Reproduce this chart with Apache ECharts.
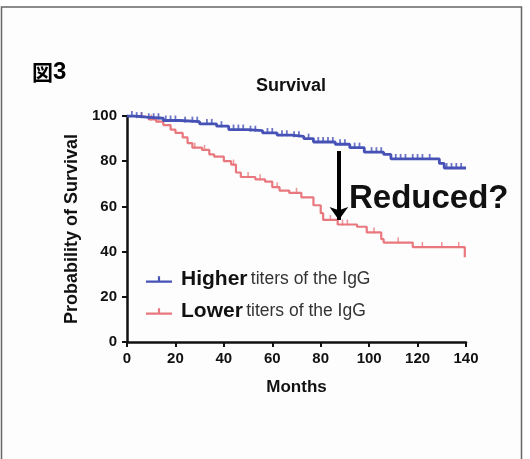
<!DOCTYPE html>
<html><head><meta charset="utf-8">
<script src="https://cdn.jsdelivr.net/npm/echarts@6/dist/echarts.min.js"></script>
<style>html,body{margin:0;padding:0;background:#fff}#c{width:530px;height:459px}</style>
</head><body><div id="c"></div>
<script>
// Kaplan-Meier step points [month, survival %]
const higherSteps = [[0,100],[3,99.5],[8,99],[15,98],[22,97.5],[30,96.5],[37,95.5],[42,94],[50,93.5],[56,92.5],[62,91.5],[68,91],[73,90],[77,88.5],[86,87.5],[92,86],[98,84],[106,83],[109,81],[129,79],[131,77],[140,77]];
const lowerSteps = [[0,100],[4,99.5],[9,98.5],[12,97.5],[15,96],[18,94],[20,92.5],[23,90.5],[25,88],[27,86],[31,85],[34,83],[36,82],[40,80],[43,78.5],[45,75],[47,73],[53,72],[57,71],[60,68.5],[63,67],[67,66],[72,64],[77,60.5],[80,57],[81,54],[87,52],[95,51],[99,48.5],[105,45.5],[106,44],[118,42],[139.5,42],[139.5,37.5]];
// censored observation months
const higherCensor = [2,4,6,9,11,13,16,18,20,24,27,29,33,35,39,44,46,48,51,53,58,60,64,66,69,71,75,79,81,83,85,88,90,94,96,101,103,105,111,113,115,118,120,122,125,132,134,136,138];
const lowerCensor = [6,10,13,28,32,44,50,55,62,70,84,89,91,102,112,122,130,137];
const xTicks = [0,20,40,60,80,100,120,140];
const yTicks = [0,20,40,60,80,100];
const arrowFrom = [87.5, 84.5];
const arrowTo = [87.5, 54];

function survAt(steps, t){ let v = steps[0][1]; for (const p of steps){ if (p[0] <= t) v = p[1]; } return v; }
const blue = '#4652b5', red = '#e8787e';
const font = 'Liberation Sans, Arial, sans-serif';
const chart = echarts.init(document.getElementById('c'), null, {renderer:'canvas'});
const tickIcon = 'path://M0,4 L11,4 L11,0 L13,0 L13,4 L24,4 L24,6 L0,6 Z';
chart.setOption({
  animation:false,
  backgroundColor:'#ffffff',
  grid:{left:127,right:64,top:116,bottom:117},
  xAxis:{type:'value',min:0,max:140,interval:20,
    name:'Months',nameLocation:'middle',nameGap:37,
    nameTextStyle:{fontFamily:font,fontWeight:'bold',fontSize:17,color:'#111'},
    axisLine:{lineStyle:{color:'#111',width:2.5}},
    axisTick:{show:true,length:5,lineStyle:{color:'#111',width:2}},
    axisLabel:{margin:9,fontFamily:font,fontWeight:'bold',fontSize:15,color:'#111',formatter:v=>xTicks.includes(v)?String(v):''},
    splitLine:{show:false}},
  yAxis:{type:'value',min:0,max:100,interval:20,
    name:'Probability of Survival',nameLocation:'middle',nameGap:46,nameRotate:90,
    nameTextStyle:{fontFamily:font,fontWeight:'bold',fontSize:18,color:'#111'},
    axisLine:{show:true,lineStyle:{color:'#111',width:2.5}},
    axisTick:{show:true,length:5,lineStyle:{color:'#111',width:2}},
    axisLabel:{margin:10,fontFamily:font,fontWeight:'bold',fontSize:15,color:'#111',formatter:v=>yTicks.includes(v)?String(v):''},
    splitLine:{show:false}},
  legend:{orient:'vertical',left:141,top:264,itemGap:11,itemWidth:26,itemHeight:7,
    data:[{name:'Higher',icon:tickIcon},{name:'Lower',icon:tickIcon}],
    formatter:n=>'{b|'+n+'} {n|titers of the IgG}',
    textStyle:{padding:[0,0,0,4],rich:{b:{fontFamily:font,fontWeight:'bold',fontSize:21,color:'#111'},n:{fontFamily:font,fontSize:17.5,color:'#333'}}}},
  series:[
    {name:'Higher',type:'line',step:'end',data:higherSteps,showSymbol:false,color:blue,lineStyle:{width:2.8,color:blue},z:3},
    {name:'Lower',type:'line',step:'end',data:lowerSteps,showSymbol:false,color:red,lineStyle:{width:2.2,color:red},z:2,
      markLine:{silent:true,symbol:['none','arrow'],symbolSize:[14,13],label:{show:false},
        lineStyle:{color:'#000',width:4,type:'solid'},
        data:[[{coord:arrowFrom},{coord:arrowTo}]]}},
    {name:'Higher',type:'scatter',data:higherCensor.map(t=>[t,survAt(higherSteps,t)]),symbol:'rect',symbolSize:[1.8,6],symbolOffset:[0,-2],itemStyle:{color:blue},z:3},
    {name:'Lower',type:'scatter',data:lowerCensor.map(t=>[t,survAt(lowerSteps,t)]),symbol:'rect',symbolSize:[1.5,6],symbolOffset:[0,-2],itemStyle:{color:red},z:2}
  ],
  graphic:[
    {type:'rect',shape:{x:1.5,y:7,width:520,height:470},style:{fill:'#fdfdfd',stroke:'#666',lineWidth:1.5},z:-10,silent:true},
    {type:'text',left:32,top:60,style:{text:'{a|図}{b|3}',rich:{a:{fontFamily:'Noto Sans CJK JP',fontWeight:'bold',fontSize:21,color:'#111'},b:{fontFamily:font,fontWeight:'bold',fontSize:24,color:'#111'}}}},
    {type:'text',x:291,y:86,style:{text:'Survival',fontFamily:font,fontWeight:'bold',fontSize:18,fill:'#111',align:'center',verticalAlign:'middle'}},
    {type:'text',x:349,y:199,style:{text:'Reduced?',fontFamily:font,fontWeight:'bold',fontSize:33,fill:'#111',align:'left',verticalAlign:'middle'}}
  ]
});
</script></body></html>
